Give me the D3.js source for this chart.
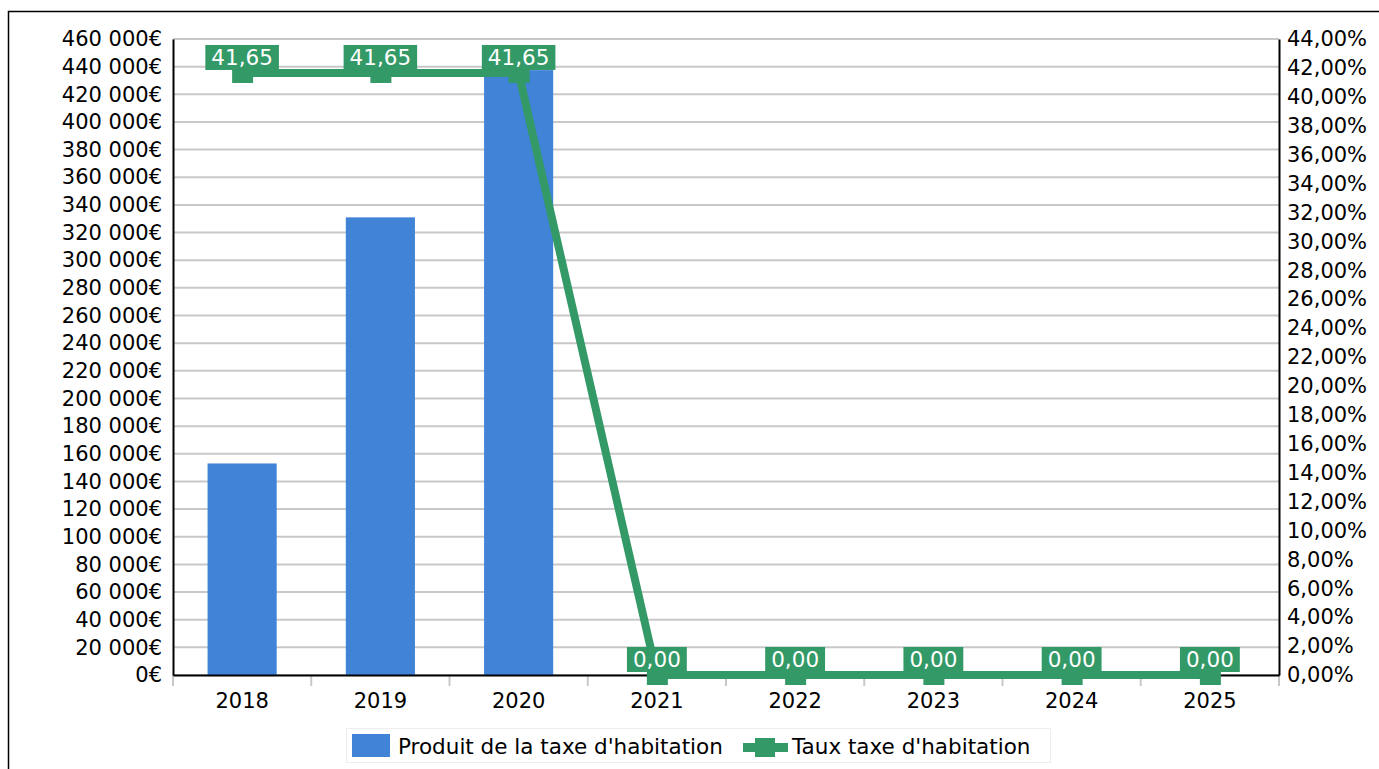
<!DOCTYPE html>
<html>
<head>
<meta charset="utf-8">
<script src="https://cdn.jsdelivr.net/npm/d3@7"></script>
<style>
  body { margin: 0; background: #fff; }
  text { font-family: "DejaVu Sans", sans-serif; }
</style>
</head>
<body>
<div id="chart"></div>
<script>
const years = ["2018", "2019", "2020", "2021", "2022", "2023", "2024", "2025"];
const produit = [153000, 331000, 437500, 0, 0, 0, 0, 0];
const taux = [41.65, 41.65, 41.65, 0, 0, 0, 0, 0];
const leftTicks = d3.range(0, 460001, 20000);
const rightTicks = d3.range(0, 44.01, 2);

const width = 1379;
const height = 769;
const margin = { top: 39, bottom: 94, left: 173, right: 100 };
const blue = "#4183d7";
const green = "#339966";
const fs = "21px";

const svg = d3.select("#chart")
    .append("svg")
    .attr("width", width)
    .attr("height", height);

// outer frame
svg.append("rect")
    .attr("x", 8.5).attr("y", 11.5)
    .attr("width", width + 10).attr("height", height + 10)
    .attr("fill", "none").attr("stroke", "#000").attr("stroke-width", 1.5);

const x = d3.scaleBand()
    .domain(years)
    .range([margin.left, width - margin.right])
    .paddingInner(0).paddingOuter(0);

const y = d3.scaleLinear()
    .domain([0, 460000])
    .range([height - margin.bottom, margin.top]);

const y2 = d3.scaleLinear()
    .domain([0, 44])
    .range([height - margin.bottom, margin.top]);

const fmtEuro = v => d3.format(",")(v).replace(/,/g, " ") + "€";
const fmtPct = v => d3.format(".2f")(v).replace(".", ",") + "%";

// gridlines
svg.append("g")
    .selectAll("line")
    .data(leftTicks)
    .join("line")
        .attr("x1", margin.left).attr("x2", width - margin.right)
        .attr("y1", d => y(d)).attr("y2", d => y(d))
        .attr("stroke", "#c8c8c8").attr("stroke-width", 2);

// bars
svg.append("g")
    .attr("fill", blue)
    .selectAll("rect")
    .data(produit)
    .join("rect")
        .attr("x", (d, i) => x(years[i]) + x.bandwidth() * 0.25)
        .attr("y", d => y(d))
        .attr("width", x.bandwidth() * 0.5)
        .attr("height", d => y(0) - y(d));

// x ticks at band boundaries
svg.append("g")
    .selectAll("line")
    .data(years.concat(["end"]))
    .join("line")
        .attr("x1", (d, i) => margin.left + i * x.step())
        .attr("x2", (d, i) => margin.left + i * x.step())
        .attr("y1", y(0)).attr("y2", y(0) + 11)
        .attr("stroke", "#c8c8c8").attr("stroke-width", 2);

function yAxis(g) {
    g.attr("transform", `translate(${margin.left}, 0)`)
        .call(d3.axisLeft(y).tickValues(leftTicks).tickFormat(fmtEuro).tickSize(0).tickPadding(11))
        .attr("font-size", fs)
        .attr("font-family", "DejaVu Sans");
    g.select(".domain").attr("stroke", "#000").attr("stroke-width", 2);
    g.selectAll("text").attr("fill", "#000");
}

function yAxis2(g) {
    g.attr("transform", `translate(${width - margin.right}, 0)`)
        .call(d3.axisRight(y2).tickValues(rightTicks).tickFormat(fmtPct).tickSize(0).tickPadding(8))
        .attr("font-size", fs)
        .attr("font-family", "DejaVu Sans");
    g.select(".domain").attr("stroke", "#000").attr("stroke-width", 2);
    g.selectAll("text").attr("fill", "#000");
}

function xAxis(g) {
    g.attr("transform", `translate(0, ${y(0)})`)
        .call(d3.axisBottom(x).tickSize(0).tickPadding(18))
        .attr("font-size", fs)
        .attr("font-family", "DejaVu Sans");
    g.select(".domain").attr("stroke", "#000").attr("stroke-width", 2);
    g.selectAll("text").attr("fill", "#000");
}

svg.append("g").call(yAxis);
svg.append("g").call(yAxis2);
svg.append("g").call(xAxis);

// line
const line = d3.line()
    .x((d, i) => x(years[i]) + x.bandwidth() / 2)
    .y(d => y2(d));

svg.append("path")
    .datum(taux)
    .attr("fill", "none")
    .attr("stroke", green)
    .attr("stroke-width", 8)
    .attr("d", line);

// markers
svg.append("g")
    .attr("fill", green)
    .selectAll("rect")
    .data(taux)
    .join("rect")
        .attr("x", (d, i) => x(years[i]) + x.bandwidth() / 2 - 10)
        .attr("y", d => y2(d) - 10)
        .attr("width", 21)
        .attr("height", 20);

// data labels
const labels = svg.append("g")
    .selectAll("g")
    .data(taux)
    .join("g")
        .attr("transform", (d, i) => `translate(${x(years[i]) + x.bandwidth() / 2}, ${y2(d) - 3})`);

labels.append("text")
    .attr("text-anchor", "middle")
    .attr("y", -5)
    .attr("font-size", "21.5px")
    .attr("fill", "#fff")
    .text(d => d3.format(".2f")(d).replace(".", ","))
    .each(function () {
        const b = this.getBBox();
        d3.select(this.parentNode).insert("rect", "text")
            .attr("x", b.x - 6).attr("y", -25)
            .attr("width", b.width + 12).attr("height", 25)
            .attr("fill", green);
    });

// legend
const legend = svg.append("g");
legend.append("rect")
    .attr("x", 346.5).attr("y", 728.5)
    .attr("width", 704).attr("height", 34)
    .attr("fill", "#fff").attr("stroke", "#eee");
legend.append("rect")
    .attr("x", 352).attr("y", 734)
    .attr("width", 38).attr("height", 23)
    .attr("fill", blue);
legend.append("text")
    .attr("x", 398).attr("y", 754)
    .attr("font-size", "21.5px").attr("fill", "#000")
    .text("Produit de la taxe d'habitation");
legend.append("line")
    .attr("x1", 743).attr("x2", 788)
    .attr("y1", 747.5).attr("y2", 747.5)
    .attr("stroke", green).attr("stroke-width", 9);
legend.append("rect")
    .attr("x", 755).attr("y", 738)
    .attr("width", 20).attr("height", 19)
    .attr("fill", green);
legend.append("text")
    .attr("x", 792).attr("y", 754)
    .attr("font-size", "21.5px").attr("fill", "#000")
    .text("Taux taxe d'habitation");
</script>
</body>
</html>
